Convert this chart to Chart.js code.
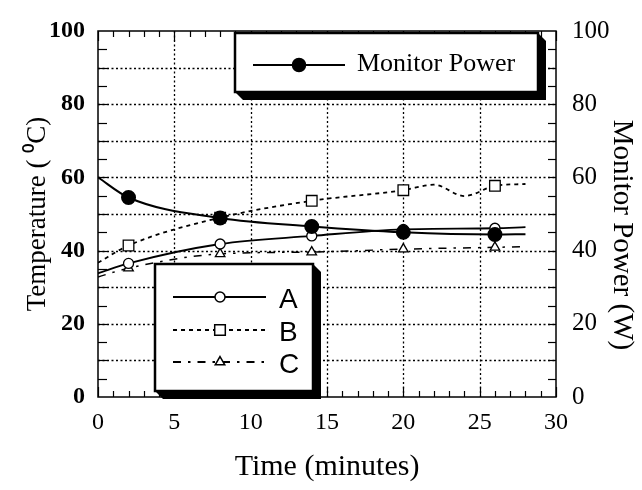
<!DOCTYPE html>
<html><head><meta charset="utf-8">
<style>html,body{margin:0;padding:0;background:#fff;} canvas{display:block;}</style>
<script src="https://cdn.jsdelivr.net/npm/chart.js@4.4.1/dist/chart.umd.min.js"></script>
</head><body>
<canvas id="c" width="642" height="490"></canvas>
<script>
// ---- data ----
const timeMin      = [0, 2, 8, 14, 20, 26, 28];
const monitorPower = [60, 54.5, 48.9, 46.6, 45.0, 44.4, 44.5];
const tempA        = [33.8, 36.5, 41.8, 44.0, 45.8, 46.1, 46.4];
const tempC        = [32.8, 35.2, 39.1, 39.6, 40.4, 40.9, 41.1];
const timeB        = [0, 2, 8, 14, 20, 22, 24, 26, 28];
const tempB        = [36.7, 41.4, 49.0, 53.6, 56.5, 58.0, 54.9, 57.7, 58.2];
const markerTimes  = [2, 8, 14, 20, 26];
const xTickLabels  = [0, 5, 10, 15, 20, 25, 30];
const yTickLabels  = [0, 20, 40, 60, 80, 100];
const gridTimes    = [5, 10, 15, 20, 25];
const gridTemps    = [10, 20, 30, 40, 50, 60, 70, 80, 90];
const seriesNames  = ['Monitor Power', 'A', 'B', 'C'];

const SERIF = '"Liberation Serif", "Times New Roman", serif';
const SANS  = '"Liberation Sans", Arial, sans-serif';

const toPts = (xs, ys) => xs.map((x, i) => ({x: x, y: ys[i]}));
const mk = r => c => (c.raw && markerTimes.includes(c.raw.x)) ? r : 0;

function drawMarker(ctx, style, x, y, r, fill) {
  ctx.save();
  ctx.setLineDash([]);
  ctx.lineWidth = 1.5; ctx.strokeStyle = '#000'; ctx.fillStyle = fill;
  ctx.beginPath();
  if (style === 'circle') ctx.arc(x, y, r, 0, Math.PI * 2);
  else if (style === 'rect') { const s = r * Math.SQRT1_2; ctx.rect(x - s, y - s, 2 * s, 2 * s); }
  else if (style === 'triangle') {
    for (let i = 0; i < 3; i++) {
      const a = i * 2 * Math.PI / 3;
      const px = x + Math.sin(a) * r, py = y - Math.cos(a) * r;
      if (i) ctx.lineTo(px, py); else ctx.moveTo(px, py);
    }
    ctx.closePath();
  }
  ctx.fill(); ctx.stroke();
  ctx.restore();
}

function shadowBox(ctx, l, t, r, b, s) {
  ctx.save();
  ctx.setLineDash([]);
  ctx.fillStyle = '#000';
  ctx.beginPath();
  ctx.moveTo(r, t); ctx.lineTo(r + s, t + s); ctx.lineTo(r + s, b + s);
  ctx.lineTo(l + s, b + s); ctx.lineTo(l, b); ctx.lineTo(r, b); ctx.closePath();
  ctx.fill();
  ctx.fillStyle = '#fff'; ctx.fillRect(l, t, r - l, b - t);
  ctx.lineWidth = 2.5; ctx.strokeStyle = '#000'; ctx.strokeRect(l, t, r - l, b - t);
  ctx.restore();
}

function seg(ctx, x1, y1, x2, y2) { ctx.beginPath(); ctx.moveTo(x1, y1); ctx.lineTo(x2, y2); ctx.stroke(); }

const framePlugin = {
  id: 'frame',
  beforeDatasetsDraw(chart) {
    const {ctx, chartArea: a, scales} = chart;
    const x = scales.x, y = scales.y;
    ctx.save();
    ctx.strokeStyle = '#000';
    ctx.lineWidth = 1.3;
    ctx.setLineDash([2, 2.5]);
    gridTimes.forEach(v => { const px = Math.round(x.getPixelForValue(v)) + 0.5; seg(ctx, px, a.top, px, a.bottom); });
    gridTemps.forEach(v => { const py = Math.round(y.getPixelForValue(v)) + 0.5; seg(ctx, a.left, py, a.right, py); });
    ctx.setLineDash([]);
    ctx.lineWidth = 1.5;
    ctx.strokeRect(a.left, a.top, a.right - a.left, a.bottom - a.top);
    ctx.lineWidth = 1.2;
    for (let t = x.min; t <= x.max; t += 1) {
      const px = Math.round(x.getPixelForValue(t)) + 0.5;
      const len = (t % 5 === 0) ? 10 : 6;
      seg(ctx, px, a.bottom, px, a.bottom - len);
      seg(ctx, px, a.top, px, a.top + len);
    }
    for (let v = y.min + 5; v < y.max; v += 5) {
      const py = Math.round(y.getPixelForValue(v)) + 0.5;
      seg(ctx, a.left, py, a.left + 9, py);
      seg(ctx, a.right, py, a.right - 8, py);
    }
    ctx.restore();
  },
  afterDatasetsDraw(chart) {
    const ctx = chart.ctx;
    const ds = chart.data.datasets;
    // Legend 1 : Monitor Power
    shadowBox(ctx, 235, 33, 538, 92, 8);
    ctx.save();
    ctx.strokeStyle = '#000'; ctx.lineWidth = ds[0].borderWidth;
    seg(ctx, 253, 65, 345, 65);
    drawMarker(ctx, 'circle', 299, 65, 6.5, '#000');
    ctx.fillStyle = '#000';
    ctx.font = '26px ' + SERIF;
    ctx.textBaseline = 'middle'; ctx.textAlign = 'left';
    ctx.fillText(seriesNames[0], 357, 64);
    ctx.restore();

    // Legend 2 : A, B, C
    shadowBox(ctx, 155, 264, 313, 391, 8);
    const rows = [297, 330, 362];
    [1, 2, 3].forEach((di, k) => {
      const d = ds[di];
      const yy = rows[k];
      ctx.save();
      ctx.strokeStyle = '#000'; ctx.lineWidth = 2;
      ctx.setLineDash(d.borderDash || []);
      seg(ctx, 173, yy, 266, yy);
      ctx.restore();
      drawMarker(ctx, d.pointStyle, 220, yy, d.legendRadius, '#fff');
      ctx.save();
      ctx.fillStyle = '#000';
      ctx.font = '28px ' + SANS;
      ctx.textBaseline = 'middle'; ctx.textAlign = 'left';
      ctx.fillText(seriesNames[di], 279, yy + 3);
      ctx.restore();
    });

    // right axis title
    const y2 = chart.scales.y2;
    ctx.save();
    ctx.translate(622, (y2.top + y2.bottom) / 2 + 21);
    ctx.rotate(Math.PI / 2);
    ctx.fillStyle = '#000';
    ctx.font = '29px ' + SERIF;
    ctx.textAlign = 'center'; ctx.textBaseline = 'middle';
    ctx.fillText('Monitor Power (W)', 0, 0);
    ctx.restore();
  }
};

new Chart(document.getElementById('c'), {
  type: 'line',
  data: {
    datasets: [
      { label: seriesNames[0], data: toPts(timeMin, monitorPower), yAxisID: 'y2',
        borderColor: '#000', borderWidth: 2, pointStyle: 'circle',
        pointRadius: mk(6.5), pointBackgroundColor: '#000', pointBorderColor: '#000',
        cubicInterpolationMode: 'monotone' },
      { label: seriesNames[1], data: toPts(timeMin, tempA), yAxisID: 'y',
        borderColor: '#000', borderWidth: 1.8, pointStyle: 'circle', legendRadius: 5,
        pointRadius: mk(5), pointBackgroundColor: '#fff', pointBorderColor: '#000', pointBorderWidth: 1.3,
        cubicInterpolationMode: 'monotone' },
      { label: seriesNames[2], data: toPts(timeB, tempB), yAxisID: 'y',
        borderColor: '#000', borderWidth: 1.8, borderDash: [4, 4], pointStyle: 'rect', legendRadius: 7.5,
        pointRadius: mk(7.5), pointBackgroundColor: '#fff', pointBorderColor: '#000', pointBorderWidth: 1.3,
        cubicInterpolationMode: 'monotone' },
      { label: seriesNames[3], data: toPts(timeMin, tempC), yAxisID: 'y',
        borderColor: '#000', borderWidth: 1.5, borderDash: [8, 7, 2.5, 7], pointStyle: 'triangle', legendRadius: 5.5,
        pointRadius: mk(5.5), pointBackgroundColor: '#fff', pointBorderColor: '#000', pointBorderWidth: 1.3,
        cubicInterpolationMode: 'monotone' }
    ]
  },
  options: {
    responsive: false,
    animation: false,
    events: [],
    devicePixelRatio: 1,
    layout: { padding: { top: 17, left: 0, right: 0, bottom: 0 } },
    plugins: { legend: { display: false }, tooltip: { enabled: false } },
    scales: {
      x: {
        type: 'linear', position: 'bottom', min: 0, max: 30,
        afterBuildTicks: s => { s.ticks = xTickLabels.map(v => ({value: v})); },
        ticks: { autoSkip: false, maxRotation: 0, padding: 11, color: '#000',
                 font: { family: SERIF, size: 24 } },
        grid: { display: false, drawTicks: false }, border: { display: false },
        title: { display: true, text: 'Time (minutes)', color: '#000',
                 font: { family: SERIF, size: 30 }, padding: { top: 0, bottom: 5 } },
        afterFit: s => { s.height = 93; }
      },
      y: {
        type: 'linear', position: 'left', min: 0, max: 100,
        afterBuildTicks: s => { s.ticks = yTickLabels.map(v => ({value: v})); },
        ticks: { autoSkip: false, padding: 13, color: '#000',
                 font: { family: SERIF, size: 24, weight: 'bold' } },
        grid: { display: false, drawTicks: false }, border: { display: false },
        title: { display: true, text: 'Temperature ( \u2070C)', color: '#000',
                 font: { family: SERIF, size: 27 }, padding: { top: 22, bottom: 0 } },
        afterFit: s => { s.width = 98; }
      },
      y2: {
        type: 'linear', position: 'right', min: 0, max: 100,
        afterBuildTicks: s => { s.ticks = yTickLabels.map(v => ({value: v})); },
        ticks: { autoSkip: false, padding: 16, color: '#000',
                 font: { family: SERIF, size: 25 } },
        grid: { display: false, drawTicks: false }, border: { display: false },
        afterFit: s => { s.width = 86; }
      }
    }
  },
  plugins: [framePlugin]
});
</script>
</body></html>
